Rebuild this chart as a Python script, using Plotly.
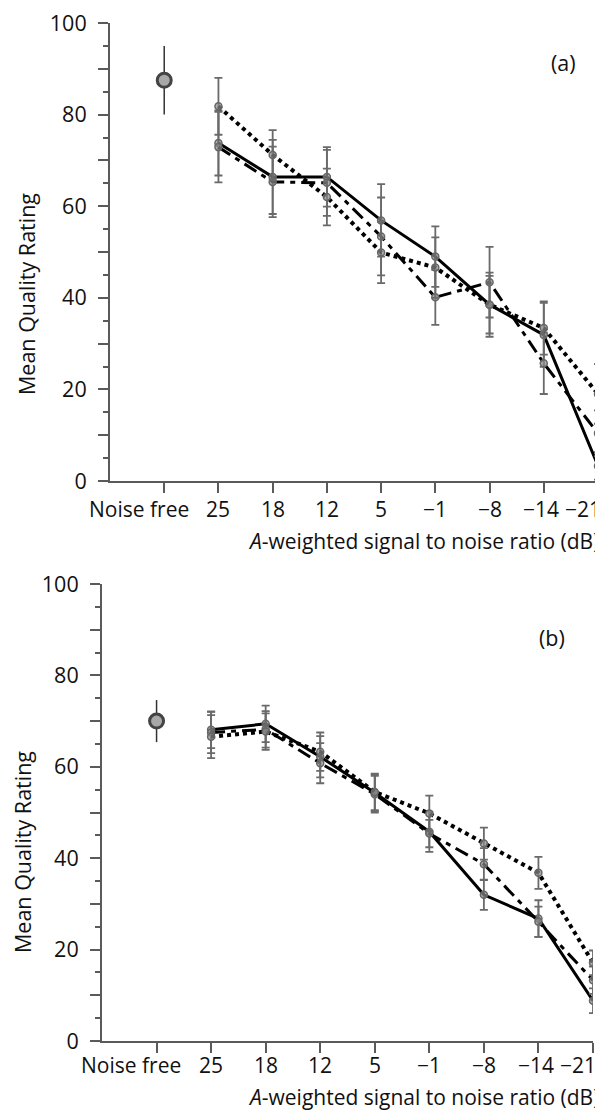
import plotly.graph_objects as go

# ---- data ----
categories = ["Noise free", "25", "18", "12", "5", "\u22121", "\u22128", "\u221214", "\u221221"]
snr_pos = [1, 2, 3, 4, 5, 6, 7, 8]

a_noise_free = 87.5
a_noise_free_err = 7.5
a_solid = [73.8, 66.4, 66.4, 56.9, 49.0, 38.5, 31.9, 3.3]
a_solid_err = [7.1, 8.1, 6.5, 7.9, 6.6, 7.0, 7.0, 3.0]
a_dashed = [72.9, 65.3, 65.1, 53.4, 40.1, 43.4, 25.7, 10.4]
a_dashed_err = [7.7, 7.7, 7.2, 8.5, 6.0, 7.7, 6.7, 5.0]
a_dotted = [81.8, 71.2, 62.0, 49.9, 46.6, 38.5, 33.4, 19.0]
a_dotted_err = [6.2, 5.4, 6.2, 6.7, 6.6, 6.3, 5.8, 6.5]

b_noise_free = 70.0
b_noise_free_err = 4.6
b_solid = [68.1, 69.4, 62.2, 54.3, 45.8, 32.0, 26.8, 8.8]
b_solid_err = [4.0, 4.0, 4.5, 4.0, 4.4, 3.3, 4.0, 2.7]
b_dashed = [67.5, 68.2, 60.8, 54.0, 45.4, 38.7, 26.1, 13.3]
b_dashed_err = [4.5, 4.0, 4.4, 4.0, 3.0, 3.5, 3.3, 3.0]
b_dotted = [66.6, 67.7, 63.3, 54.5, 49.8, 43.2, 36.8, 17.1]
b_dotted_err = [4.7, 4.0, 4.2, 4.0, 3.9, 3.5, 3.5, 2.7]

y_ticks = [0, 10, 20, 30, 40, 50, 60, 70, 80, 90, 100]
y_ticktext = ["0", "", "20", "", "40", "", "60", "", "80", "", "100"]

FONT = "Open Sans"
FS = 21.5
FSX = 21
AX = "#5a5a5a"
TXT = "#111"
OFF = 8                      # page body margin of the html page
W, H = 603 - OFF, 1113 - OFF

def px(xr):
    return (xr - OFF) / W

def py(yr):
    return 1 - (yr - OFF) / H

fig = go.Figure()

styles = [
    ("solid", None, 3),
    ("dashed", "14px,6px,5px,6px", 3),
    ("dotted", "4px,4px", 4),
]

def add_panel(xa, ya, nf, nf_err, series):
    for (name, dash, lw), (vals, errs) in zip(styles, series):
        fig.add_trace(go.Scatter(
            x=snr_pos, y=vals, xaxis=xa, yaxis=ya, mode="lines+markers",
            line=dict(color="black", width=lw, dash=dash if dash else "solid"),
            marker=dict(size=7, color="rgba(140,140,140,0.7)", line=dict(color="#666", width=1.5)),
            error_y=dict(type="data", array=errs, visible=True, color="#6a6a6a", thickness=1.8, width=4),
            showlegend=False, name=name,
        ))
    fig.add_trace(go.Scatter(
        x=[0], y=[nf], xaxis=xa, yaxis=ya, mode="markers",
        marker=dict(size=14, color="#a8a8a8", line=dict(color="#444", width=3)),
        error_y=dict(type="data", array=[nf_err], visible=True, color="#333", thickness=1.5, width=0),
        showlegend=False, name="Noise free",
    ))

add_panel("x", "y", a_noise_free, a_noise_free_err,
          [(a_solid, a_solid_err), (a_dashed, a_dashed_err), (a_dotted, a_dotted_err)])
add_panel("x2", "y2", b_noise_free, b_noise_free_err,
          [(b_solid, b_solid_err), (b_dashed, b_dashed_err), (b_dotted, b_dotted_err)])

def xaxis(dom, anchor):
    return dict(domain=dom, anchor=anchor, range=[-1, 8], showgrid=False, zeroline=False,
                automargin=False,
                showline=True, linecolor=AX, linewidth=2, ticks="outside", ticklen=10,
                tickwidth=2, tickcolor=AX, tickvals=list(range(0, 9)), showticklabels=False)

def yaxis(dom, anchor):
    return dict(domain=dom, anchor=anchor, range=[0, 100], showgrid=False, zeroline=False,
                automargin=False, ticklabeloverflow="allow",
                showline=True, linecolor=AX, linewidth=2, ticks="outside", ticklen=10,
                tickwidth=2, tickcolor=AX, tickvals=y_ticks, ticktext=y_ticktext,
                ticklabelstandoff=7, tickfont=dict(family=FONT, size=FS, color=TXT),
                minor=dict(dtick=5, ticks="outside", ticklen=5, tickwidth=2, tickcolor=AX))

# pixel geometry (reference page pixels)
ax_l, ax_r, ay_t, ay_b = 110, 598, 23, 481
bx_l, bx_r, by_t, by_b = 102, 593, 584, 1041

fig.update_layout(
    template="none",
    width=W, height=H, margin=dict(l=0, r=0, t=0, b=0, autoexpand=False),
    paper_bgcolor="white", plot_bgcolor="white",
    xaxis=xaxis([px(ax_l), px(ax_r)], "y"),
    yaxis=yaxis([py(ay_b), py(ay_t)], "x"),
    xaxis2=xaxis([px(bx_l), px(bx_r)], "y2"),
    yaxis2=yaxis([py(by_b), py(by_t)], "x2"),
    font=dict(family=FONT, size=FS, color=TXT),
)

ann = []
for xr, yb, last_right, tick_dy, title_dy in [("x", ay_b, 603, 28, 60), ("x2", by_b, 598, 24, 56)]:
    for i, c in enumerate(categories):
        a = dict(x=i, y=py(yb + tick_dy), xref=xr, yref="paper", text=c, showarrow=False,
                 xanchor="center", yanchor="middle", font=dict(family=FONT, size=FSX, color=TXT))
        if i == 0:
            a.update(x=0.49, xanchor="right")
        elif i == len(categories) - 1:
            a.update(x=px(last_right), xref="paper", xanchor="right")
        elif i == len(categories) - 2:
            a.update(x=i - 0.05)
        ann.append(a)
    ann.append(dict(x=px(601), y=py(yb + title_dy), xref="paper", yref="paper",
                    text="<i>A</i>-weighted signal to noise ratio (dB)", showarrow=False,
                    xanchor="right", yanchor="middle", font=dict(family=FONT, size=FSX, color=TXT)))

ann.append(dict(x=px(27), y=py(294), xref="paper", yref="paper",
                text="Mean Quality Rating", textangle=-90, showarrow=False,
                xanchor="center", yanchor="middle", font=dict(family=FONT, size=FS, color=TXT)))
ann.append(dict(x=px(22), y=py(852), xref="paper", yref="paper",
                text="Mean Quality Rating", textangle=-90, showarrow=False,
                xanchor="center", yanchor="middle", font=dict(family=FONT, size=FS, color=TXT)))
ann.append(dict(x=px(563), y=py(62), xref="paper", yref="paper", text="(a)", showarrow=False,
                xanchor="center", yanchor="middle", font=dict(family=FONT, size=FS, color=TXT)))
ann.append(dict(x=px(552), y=py(637), xref="paper", yref="paper", text="(b)", showarrow=False,
                xanchor="center", yanchor="middle", font=dict(family=FONT, size=FS, color=TXT)))

fig.update_layout(annotations=ann)
fig.write_html("out.html")
